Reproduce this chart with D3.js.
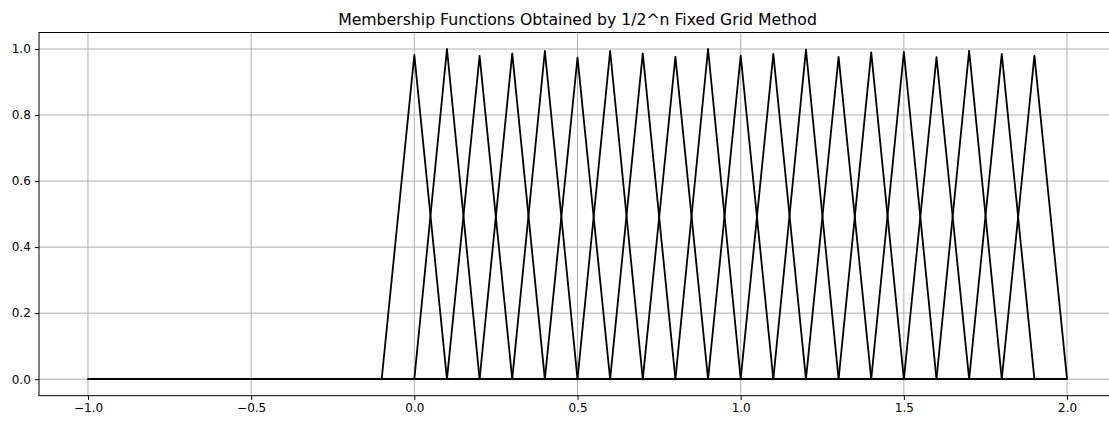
<!DOCTYPE html>
<html>
<head>
<meta charset="utf-8">
<script src="https://cdn.jsdelivr.net/npm/d3@7"></script>
<style>
  body { margin: 0; background: #fff; }
  svg { display: block; font-family: "DejaVu Sans", sans-serif; }
</style>
</head>
<body>
<div id="chart"></div>
<script>
// chart values
const title = 'Membership Functions Obtained by 1/2^n Fixed Grid Method';
const centers = [0.0, 0.1, 0.2, 0.3, 0.4, 0.5, 0.6, 0.7, 0.8, 0.9,
                 1.0, 1.1, 1.2, 1.3, 1.4, 1.5, 1.6, 1.7, 1.8, 1.9];
const peaks = [0.982, 1.0, 0.979, 0.987, 0.994, 0.974, 0.994, 0.987, 0.976, 1.0,
               0.980, 0.985, 0.998, 0.976, 0.990, 0.991, 0.975, 0.995, 0.985, 0.980];
const halfWidth = 0.1;
const universe = [-1.0, 2.0];
const xTicks = [-1.0, -0.5, 0.0, 0.5, 1.0, 1.5, 2.0];
const yTicks = [0.0, 0.2, 0.4, 0.6, 0.8, 1.0];

const width = 1109;
const height = 421;
const margin = { top: 32.5, right: -7, bottom: 25.3, left: 39 };

const svg = d3.select('#chart').append('svg')
  .attr('width', width)
  .attr('height', height);

const x = d3.scaleLinear()
  .domain([-1.15, 2.15])
  .range([margin.left, width - margin.right]);

const y = d3.scaleLinear()
  .domain([-0.05, 1.05])
  .range([height - margin.bottom, margin.top]);

const fmt = d3.format('.1f');

// grid
svg.append('g')
  .selectAll('line')
  .data(xTicks)
  .join('line')
  .attr('x1', d => x(d)).attr('x2', d => x(d))
  .attr('y1', y.range()[0]).attr('y2', y.range()[1])
  .attr('stroke', '#b0b0b0')
  .attr('stroke-width', 1);

svg.append('g')
  .selectAll('line')
  .data(yTicks)
  .join('line')
  .attr('x1', x.range()[0]).attr('x2', x.range()[1])
  .attr('y1', d => y(d)).attr('y2', d => y(d))
  .attr('stroke', '#b0b0b0')
  .attr('stroke-width', 1);

// one membership function per center, defined over the whole universe
const line = d3.line()
  .x(d => x(d[0]))
  .y(d => y(d[1]));

const functions = centers.map((c, i) => [
  [universe[0], 0],
  [c - halfWidth, 0],
  [c, peaks[i]],
  [c + halfWidth, 0],
  [universe[1], 0],
]);

svg.append('g')
  .selectAll('path')
  .data(functions)
  .join('path')
  .attr('d', line)
  .attr('fill', 'none')
  .attr('stroke', '#000')
  .attr('stroke-width', 1.8)
  .attr('stroke-linejoin', 'round');

// axes
const xAxis = svg.append('g')
  .attr('transform', `translate(0,${y.range()[0]})`)
  .call(d3.axisBottom(x).tickValues(xTicks).tickFormat(fmt)
    .tickSize(4.2).tickPadding(4).tickSizeOuter(0));

const yAxis = svg.append('g')
  .attr('transform', `translate(${x.range()[0]},0)`)
  .call(d3.axisLeft(y).tickValues(yTicks).tickFormat(fmt)
    .tickSize(4.2).tickPadding(4).tickSizeOuter(0));

[xAxis, yAxis].forEach(g => {
  g.attr('font-family', '"DejaVu Sans", sans-serif').attr('font-size', 12);
  g.selectAll('.tick line').attr('stroke', '#000').attr('stroke-width', 1);
  g.selectAll('.tick text').attr('fill', '#000');
  g.select('.domain').remove();
});

// frame
svg.append('rect')
  .attr('x', x.range()[0])
  .attr('y', y.range()[1])
  .attr('width', x.range()[1] - x.range()[0])
  .attr('height', y.range()[0] - y.range()[1])
  .attr('fill', 'none')
  .attr('stroke', '#000')
  .attr('stroke-width', 1);

svg.append('text')
  .attr('x', (x.range()[0] + x.range()[1]) / 2)
  .attr('y', 25)
  .attr('text-anchor', 'middle')
  .attr('font-size', 15.7)
  .attr('fill', '#000')
  .text(title);
</script>
</body>
</html>
